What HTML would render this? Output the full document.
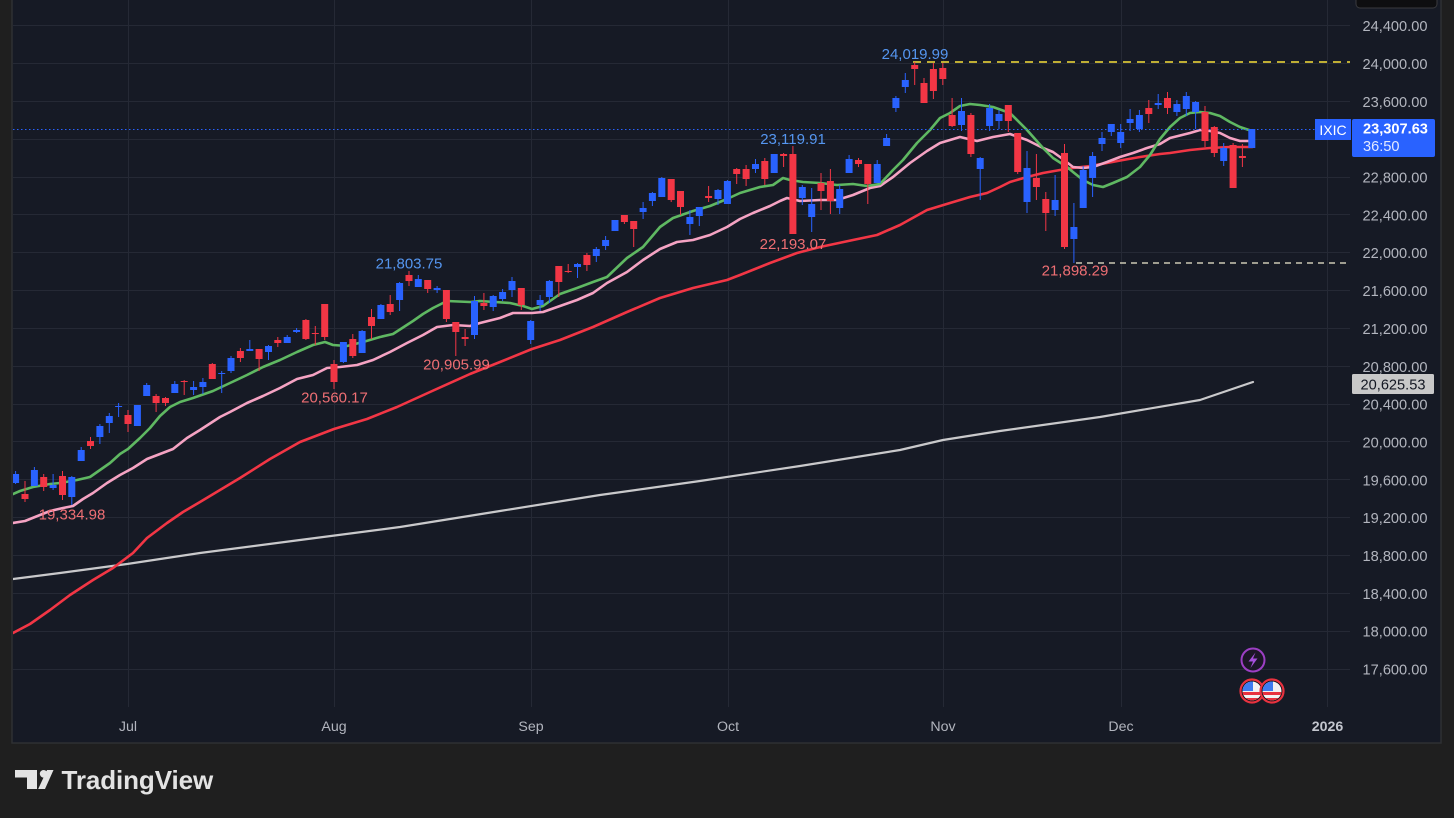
<!DOCTYPE html>
<html><head><meta charset="utf-8"><style>
html,body{margin:0;padding:0;background:#1f1f1f;width:1454px;height:818px;overflow:hidden}
svg{display:block}
text{font-family:"Liberation Sans",sans-serif}
</style></head><body>
<svg width="1454" height="818" viewBox="0 0 1454 818" xmlns="http://www.w3.org/2000/svg">
<defs>
<clipPath id="plot"><rect x="13" y="0" width="1337" height="707"/></clipPath>
<clipPath id="f1"><circle cx="1252" cy="691" r="9.5"/></clipPath>
<clipPath id="f2"><circle cx="1272" cy="691" r="9.5"/></clipPath>
</defs>
<rect x="0" y="0" width="1454" height="818" fill="#1f1f1f"/>
<rect x="12" y="-2" width="1429" height="745" fill="#161a25" stroke="#2f3033" stroke-width="1.5"/>
<!-- grid -->
<g stroke="#252935" stroke-width="1">
<path d="M13 25.5H1350M13 63.5H1350M13 101.5H1350M13 139.5H1350M13 177.5H1350M13 214.5H1350M13 252.5H1350M13 290.5H1350M13 328.5H1350M13 366.5H1350M13 404.5H1350M13 441.5H1350M13 479.5H1350M13 517.5H1350M13 555.5H1350M13 593.5H1350M13 631.5H1350M13 669.5H1350"/>
<path d="M128.5 0V707M334.5 0V707M531.5 0V707M728.5 0V707M943.5 0V707M1121.5 0V707M1327.5 0V707"/>
</g>
<g clip-path="url(#plot)" fill="none" stroke-linejoin="round" stroke-linecap="round">
<polyline stroke="#c9c9cb" stroke-width="2.2" points="13,579 60,573 127,564 200,553 300,540 400,527 500,511 600,495 700,481 800,466 900,450 943,440 1000,431 1100,417 1200,400 1253,382"/>
<polyline stroke="#f23645" stroke-width="2.6" points="13,633 30,624 50,610 70,595 93,580 113,568 133,553 147,538 167,523 183,512 200,502 220,490 240,478 270,459 300,442 334,429 367,419 397,407 430,392 470,374 500,362 532,349 560,340 593,327 627,312 660,298 693,288 727,280 740,275 770,263 797,253 820,247 853,240 877,235 900,225 927,210 950,203 970,197 987,193 1000,187 1010,182 1027,177 1043,173 1060,170 1073,168 1090,166 1107,163 1123,160 1140,157 1160,154 1170,153 1190,150 1210,148 1230,147 1252,147"/>
<polyline stroke="#f5a3c3" stroke-width="2.6" points="13,523 25,521 35,517 50,511 63,508 73,506 83,499 93,493 107,483 120,475 133,468 147,459 160,454 173,449 187,438 200,430 220,417 230,412 247,403 263,396 280,388 297,379 313,375 327,368 340,367 357,365 373,360 390,352 407,343 423,335 437,327 453,325 470,326 480,323 500,318 513,313 532,313 543,312 560,306 577,300 593,293 607,283 627,272 643,260 660,249 677,242 693,240 710,235 727,227 740,219 753,213 770,206 780,201 787,198 800,201 820,200 837,200 853,195 870,188 880,186 893,177 910,163 927,151 940,143 950,140 960,137 977,141 993,137 1010,134 1027,140 1043,148 1053,152 1060,157 1073,167 1083,168 1093,167 1107,162 1120,157 1133,153 1147,148 1160,144 1170,138 1190,133 1200,130 1210,131 1220,133 1230,138 1240,141 1252,141"/>
<polyline stroke="#5fb862" stroke-width="2.6" points="13,494 20,491 33,487 50,484 60,483 77,480 90,477 100,470 110,463 120,454 128,449 140,438 150,428 160,416 170,407 180,402 193,398 213,391 230,383 247,375 263,367 280,360 297,352 313,345 325,342 333,345 347,346 363,342 380,337 393,334 413,321 423,314 433,308 447,301 470,302 480,301 510,303 523,306 532,309 543,306 560,294 577,288 593,282 607,277 627,258 643,247 660,227 673,218 693,211 710,206 727,199 740,193 760,187 773,185 783,178 790,180 803,182 820,183 837,185 853,184 867,186 880,184 893,170 903,160 917,143 930,130 940,118 950,113 960,106 970,104 980,105 993,107 1010,113 1027,130 1043,148 1053,158 1067,167 1073,172 1083,180 1093,185 1103,187 1113,183 1127,177 1140,167 1150,155 1160,139 1170,127 1180,118 1190,113 1200,112 1210,113 1220,116 1230,122 1240,127 1252,131"/>
</g>
<!-- current price dotted line -->
<line x1="13" y1="129.5" x2="1315" y2="129.5" stroke="#2962ff" stroke-width="1" stroke-dasharray="1.5 2.5"/>
<!-- high/low dashed lines -->
<line x1="913" y1="62" x2="1350" y2="62" stroke="#f7e03a" stroke-width="1.6" stroke-dasharray="8 6"/>
<line x1="1076" y1="263" x2="1350" y2="263" stroke="#f0ecd0" stroke-width="1.3" stroke-dasharray="6 5"/>
<!-- candles -->
<g clip-path="url(#plot)">
<path fill="#2962ff" d="M15.1 471h1V484h-1zM12.1 474h7V483h-7zM33.9 467h1V486h-1zM30.9 470h7V486h-7zM52.6 474h1V490h-1zM49.6 485h7V488h-7zM71.3 476h1V505h-1zM68.3 477h7V497h-7zM80.7 447h1V461h-1zM77.7 450h7V461h-7zM99.4 424h1V444h-1zM96.4 426h7V437h-7zM108.8 413h1V433h-1zM105.8 416h7V423h-7zM118.1 403h1V417h-1zM115.1 406h7V407h-7zM136.9 405h1V426h-1zM133.9 405h7V426h-7zM146.2 383h1V396h-1zM143.2 385h7V396h-7zM174.3 381h1V393h-1zM171.3 384h7V393h-7zM193.1 381h1V395h-1zM190.1 387h7V390h-7zM202.4 378h1V394h-1zM199.4 382h7V387h-7zM221.2 371h1V393h-1zM218.2 373h7V374h-7zM230.5 356h1V373h-1zM227.5 358h7V371h-7zM249.3 340h1V351h-1zM246.3 349h7V351h-7zM268 345h1V360h-1zM265 346h7V352h-7zM286.7 335h1V343h-1zM283.7 337h7V343h-7zM296.1 328h1V333h-1zM293.1 330h7V332h-7zM342.9 342h1V363h-1zM339.9 342h7V362h-7zM361.6 330h1V353h-1zM358.6 331h7V353h-7zM380.4 304h1V319h-1zM377.4 305h7V319h-7zM399.1 282h1V311h-1zM396.1 283h7V300h-7zM417.8 275h1V287h-1zM414.8 279h7V287h-7zM436.6 286h1V293h-1zM433.6 288h7V290h-7zM474 296h1V339h-1zM471 301h7V335h-7zM492.7 295h1V311h-1zM489.7 296h7V307h-7zM502.1 289h1V301h-1zM499.1 292h7V299h-7zM511.5 277h1V297h-1zM508.5 281h7V290h-7zM530.2 320h1V344h-1zM527.2 321h7V340h-7zM539.6 295h1V311h-1zM536.6 300h7V305h-7zM548.9 280h1V303h-1zM545.9 281h7V297h-7zM577 263h1V278h-1zM574 264h7V267h-7zM595.8 247h1V262h-1zM592.8 249h7V256h-7zM605.1 236h1V250h-1zM602.1 240h7V246h-7zM614.5 220h1V231h-1zM611.5 220h7V231h-7zM642.6 202h1V219h-1zM639.6 208h7V212h-7zM651.9 192h1V206h-1zM648.9 193h7V201h-7zM661.3 177h1V197h-1zM658.3 178h7V197h-7zM689.4 210h1V235h-1zM686.4 217h7V224h-7zM698.8 207h1V226h-1zM695.8 207h7V216h-7zM717.5 189h1V205h-1zM714.5 190h7V199h-7zM726.9 180h1V204h-1zM723.9 181h7V204h-7zM755 159h1V173h-1zM752 164h7V169h-7zM773.7 154h1V173h-1zM770.7 154h7V173h-7zM801.8 185h1V205h-1zM798.8 187h7V198h-7zM811.2 188h1V232h-1zM808.2 204h7V217h-7zM839.2 185h1V214h-1zM836.2 189h7V208h-7zM848.6 155h1V173h-1zM845.6 159h7V173h-7zM876.7 160h1V183h-1zM873.7 164h7V183h-7zM886.1 134h1V146h-1zM883.1 138h7V146h-7zM895.4 96h1V112h-1zM892.4 98h7V108h-7zM904.8 73h1V93h-1zM901.8 80h7V87h-7zM961 98h1V131h-1zM958 111h7V125h-7zM979.7 157h1V200h-1zM976.7 158h7V169h-7zM989.1 104h1V131h-1zM986.1 108h7V126h-7zM998.5 110h1V129h-1zM995.5 114h7V121h-7zM1026.5 151h1V213h-1zM1023.5 168h7V202h-7zM1054.6 175h1V216h-1zM1051.6 200h7V210h-7zM1073.4 203h1V263h-1zM1070.4 227h7V239h-7zM1082.7 166h1V208h-1zM1079.7 170h7V208h-7zM1092.1 152h1V197h-1zM1089.1 156h7V178h-7zM1101.5 132h1V151h-1zM1098.5 138h7V144h-7zM1110.8 124h1V136h-1zM1107.8 124h7V132h-7zM1120.2 124h1V148h-1zM1117.2 132h7V143h-7zM1129.6 109h1V131h-1zM1126.6 119h7V123h-7zM1138.9 110h1V132h-1zM1135.9 115h7V129h-7zM1157.7 94h1V109h-1zM1154.7 103h7V105h-7zM1176.4 100h1V116h-1zM1173.4 104h7V112h-7zM1185.8 92h1V116h-1zM1182.8 96h7V109h-7zM1195.1 101h1V129h-1zM1192.1 102h7V112h-7zM1223.2 143h1V166h-1zM1220.2 148h7V161h-7zM1251.3 129h1V148h-1zM1248.3 129h7V148h-7z"/>
<path fill="#f23645" d="M24.5 481h1V502h-1zM21.5 494h7V499h-7zM43.2 474h1V491h-1zM40.2 477h7V487h-7zM62 471h1V500h-1zM59 476h7V495h-7zM90 437h1V449h-1zM87 441h7V446h-7zM127.5 410h1V432h-1zM124.5 415h7V424h-7zM155.6 394h1V412h-1zM152.6 396h7V403h-7zM165 397h1V406h-1zM162 398h7V403h-7zM183.7 380h1V395h-1zM180.7 381h7V382h-7zM211.8 363h1V379h-1zM208.8 364h7V379h-7zM239.9 348h1V362h-1zM236.9 351h7V358h-7zM258.6 349h1V371h-1zM255.6 349h7V359h-7zM277.3 337h1V347h-1zM274.3 340h7V343h-7zM305.4 319h1V340h-1zM302.4 320h7V339h-7zM314.8 326h1V345h-1zM311.8 333h7V334h-7zM324.2 304h1V340h-1zM321.2 304h7V337h-7zM333.5 360h1V389h-1zM330.5 364h7V382h-7zM352.3 334h1V358h-1zM349.3 339h7V356h-7zM371 309h1V339h-1zM368 317h7V326h-7zM389.7 295h1V315h-1zM386.7 304h7V312h-7zM408.5 271h1V286h-1zM405.5 275h7V281h-7zM427.2 280h1V293h-1zM424.2 280h7V289h-7zM445.9 290h1V322h-1zM442.9 290h7V319h-7zM455.3 322h1V356h-1zM452.3 322h7V332h-7zM464.6 329h1V346h-1zM461.6 337h7V339h-7zM483.4 293h1V310h-1zM480.4 303h7V306h-7zM520.8 288h1V310h-1zM517.8 288h7V305h-7zM558.3 266h1V297h-1zM555.3 266h7V282h-7zM567.7 264h1V273h-1zM564.7 271h7V272h-7zM586.4 253h1V271h-1zM583.4 255h7V265h-7zM623.9 215h1V224h-1zM620.9 215h7V222h-7zM633.2 221h1V247h-1zM630.2 221h7V229h-7zM670.7 179h1V202h-1zM667.7 179h7V200h-7zM680 191h1V215h-1zM677 191h7V207h-7zM708.1 186h1V202h-1zM705.1 196h7V198h-7zM736.2 168h1V184h-1zM733.2 169h7V174h-7zM745.6 165h1V186h-1zM742.6 169h7V179h-7zM764.3 158h1V185h-1zM761.3 161h7V179h-7zM783.1 153h1V167h-1zM780.1 154h7V156h-7zM792.4 146h1V234h-1zM789.4 154h7V234h-7zM820.5 173h1V210h-1zM817.5 183h7V191h-7zM829.9 169h1V214h-1zM826.9 181h7V201h-7zM858 158h1V167h-1zM855 160h7V164h-7zM867.3 164h1V204h-1zM864.3 164h7V184h-7zM914.2 62h1V85h-1zM911.2 65h7V69h-7zM923.5 78h1V103h-1zM920.5 83h7V103h-7zM932.9 63h1V99h-1zM929.9 69h7V91h-7zM942.3 63h1V85h-1zM939.3 68h7V79h-7zM951.6 98h1V127h-1zM948.6 115h7V126h-7zM970.4 113h1V157h-1zM967.4 115h7V154h-7zM1007.8 105h1V132h-1zM1004.8 105h7V121h-7zM1017.2 133h1V174h-1zM1014.2 133h7V172h-7zM1035.9 154h1V200h-1zM1032.9 178h7V187h-7zM1045.3 192h1V231h-1zM1042.3 199h7V213h-7zM1064 144h1V249h-1zM1061 153h7V247h-7zM1148.3 100h1V123h-1zM1145.3 108h7V114h-7zM1167 92h1V114h-1zM1164 98h7V108h-7zM1204.5 106h1V147h-1zM1201.5 112h7V141h-7zM1213.8 126h1V157h-1zM1210.8 127h7V153h-7zM1232.6 143h1V188h-1zM1229.6 145h7V188h-7zM1241.9 144h1V167h-1zM1238.9 156h7V158h-7z"/>
</g>
<!-- high/low labels -->
<g font-size="15" text-anchor="middle">
<text x="915" y="59" fill="#5596f0">24,019.99</text>
<text x="793" y="144" fill="#5596f0">23,119.91</text>
<text x="793" y="249" fill="#ef6f74">22,193.07</text>
<text x="409" y="268.5" fill="#5596f0">21,803.75</text>
<text x="334.5" y="402.5" fill="#ef6f74">20,560.17</text>
<text x="456.5" y="369.5" fill="#ef6f74">20,905.99</text>
<text x="72" y="519.5" fill="#ef6f74">19,334.98</text>
<text x="1075" y="275.5" fill="#ef6f74">21,898.29</text>
</g>
<!-- price axis labels -->
<g font-size="14.6" fill="#b2b5be" text-anchor="middle">
<text x="1395" y="31.2">24,400.00</text>
<text x="1395" y="69">24,000.00</text>
<text x="1395" y="106.9">23,600.00</text>
<text x="1395" y="182.6">22,800.00</text>
<text x="1395" y="220.4">22,400.00</text>
<text x="1395" y="258.2">22,000.00</text>
<text x="1395" y="296.1">21,600.00</text>
<text x="1395" y="333.9">21,200.00</text>
<text x="1395" y="371.8">20,800.00</text>
<text x="1395" y="409.6">20,400.00</text>
<text x="1395" y="447.4">20,000.00</text>
<text x="1395" y="485.3">19,600.00</text>
<text x="1395" y="523.1">19,200.00</text>
<text x="1395" y="561">18,800.00</text>
<text x="1395" y="598.8">18,400.00</text>
<text x="1395" y="636.6">18,000.00</text>
<text x="1395" y="674.5">17,600.00</text>
</g>
<!-- SMA200 label -->
<rect x="1352" y="374" width="82" height="20" rx="1.5" fill="#c8c8c8"/>
<text x="1393" y="389.3" font-size="14.6" fill="#131722" text-anchor="middle">20,625.53</text>
<!-- current price label -->
<rect x="1315" y="119" width="36" height="21" fill="#2962ff"/>
<text x="1333" y="134.8" font-size="14" fill="#ffffff" text-anchor="middle">IXIC</text>
<rect x="1352" y="119" width="83" height="38" rx="2" fill="#2962ff"/>
<text x="1363" y="133.5" font-size="14.6" font-weight="bold" fill="#ffffff">23,307.63</text>
<text x="1363" y="151" font-size="14.6" fill="#e3e9ff">36:50</text>
<!-- top tooltip stub -->
<rect x="1356" y="-6" width="81" height="14" rx="4" fill="#0e0e10" stroke="#3a3a3e" stroke-width="1"/>
<!-- time axis -->
<g font-size="14.2" fill="#b2b5be" text-anchor="middle">
<text x="128" y="731">Jul</text>
<text x="334" y="731">Aug</text>
<text x="531" y="731">Sep</text>
<text x="728" y="731">Oct</text>
<text x="943" y="731">Nov</text>
<text x="1121" y="731">Dec</text>
<text x="1327.5" y="731" font-weight="bold" fill="#c3c6ce">2026</text>
</g>
<!-- event icons -->
<circle cx="1253" cy="660" r="11.5" fill="#1b1626" stroke="#9c3fc4" stroke-width="2"/>
<path d="M1255.5 652.5L1248.5 661.5H1253L1250.5 668L1257.5 658.5H1253Z" fill="#a54fdc"/>
<g>
<circle cx="1252" cy="691" r="11.5" fill="#101018" stroke="#e8323f" stroke-width="2.2"/>
<g clip-path="url(#f1)">
<rect x="1240" y="680" width="24" height="24" fill="#f2f2f2"/>
<rect x="1240" y="692" width="24" height="3" fill="#e8323f"/>
<rect x="1240" y="698" width="24" height="3" fill="#e8323f"/>
<rect x="1240" y="680" width="13" height="11" fill="#3d7bf0"/>
</g>
<circle cx="1272" cy="691" r="11.5" fill="#101018" stroke="#e8323f" stroke-width="2.2"/>
<g clip-path="url(#f2)">
<rect x="1260" y="680" width="24" height="24" fill="#f2f2f2"/>
<rect x="1260" y="692" width="24" height="3" fill="#e8323f"/>
<rect x="1260" y="698" width="24" height="3" fill="#e8323f"/>
<rect x="1260" y="680" width="13" height="11" fill="#3d7bf0"/>
</g>
</g>
<!-- TradingView logo -->
<g fill="#e3e3e3">
<path d="M15 770H37V789H27V777.5H15Z"/>
<circle cx="43.6" cy="773.8" r="3.8"/>
<path d="M47 770H53.5L45 789H38.2Z"/>
<text x="61.5" y="789" font-size="26" font-weight="bold" letter-spacing="-0.1">TradingView</text>
</g>
</svg>
</body></html>
